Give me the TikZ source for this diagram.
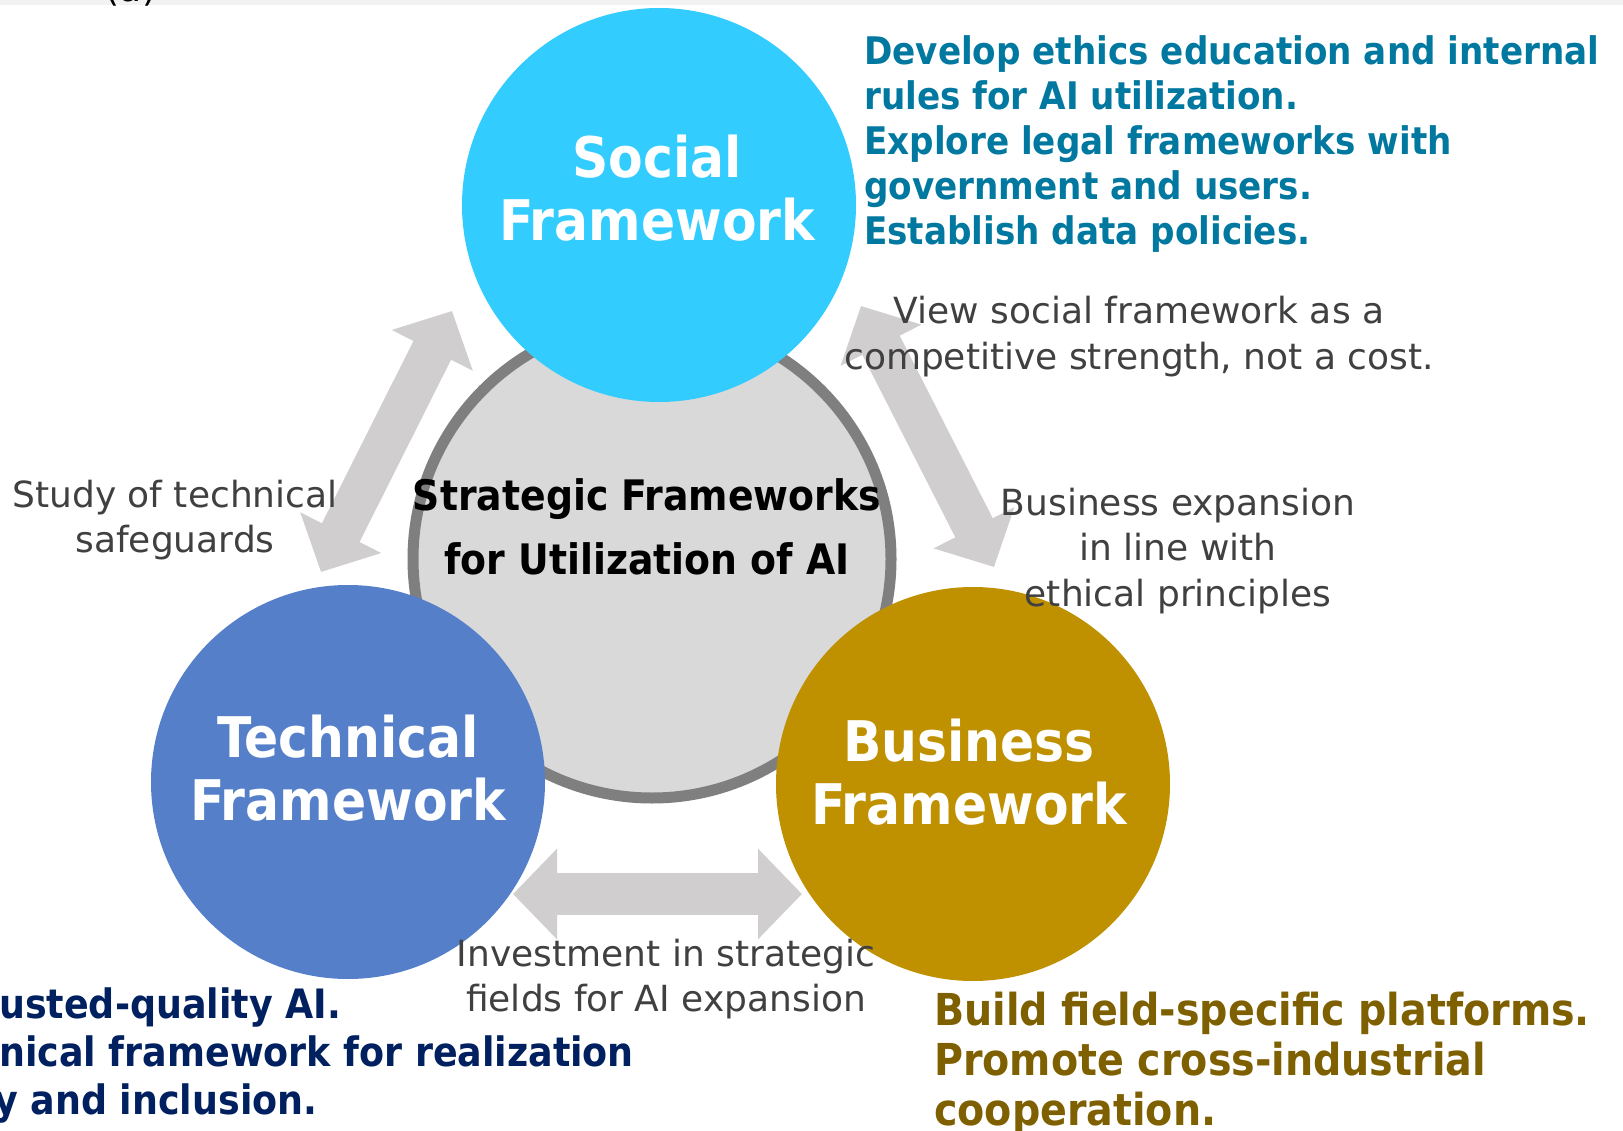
\documentclass[tikz,border=0pt]{standalone}
\usepackage{fontspec}
\setmainfont{DejaVu Sans}
\newfontfamily\bfc{DejaVu Sans Condensed Bold}
\usetikzlibrary{arrows.meta}
\definecolor{socialc}{HTML}{33CCFF}
\definecolor{techc}{HTML}{5580C9}
\definecolor{busc}{HTML}{BF9000}
\definecolor{centerfill}{HTML}{D9D9D9}
\definecolor{centerdraw}{HTML}{7F7F7F}
\definecolor{arrowc}{HTML}{D0CECE}
\definecolor{tealc}{HTML}{0078A0}
\definecolor{navyc}{HTML}{002060}
\definecolor{brownc}{HTML}{7F6000}
\definecolor{labelc}{HTML}{404040}
\definecolor{bandc}{HTML}{F2F2F2}
\tikzset{
  fw/.style={circle, minimum size=394pt, inner sep=0pt, fill=#1},
  fwtext/.style={text=white, align=center, anchor=base, inner sep=0pt,
    font=\bfc\fontsize{56}{63}\selectfont},
  lbl/.style={text=labelc, align=center, anchor=base, inner sep=0pt,
    font=\fontsize{36}{45.5}\selectfont},
  note/.style={align=left, anchor=base west, inner sep=0pt},
  navynote/.style={note, text=navyc, font=\bfc\fontsize{40.5}{48}\selectfont},
  dbl/.style={arrowc, line width=42pt,
    {Triangle[length=44pt,width=88pt]}-{Triangle[length=44pt,width=88pt]}},
}
\begin{document}
\begin{tikzpicture}[x=1pt,y=-1pt]
\useasboundingbox (0,0) rectangle (1623,1131);
\clip (0,0) rectangle (1623,1131);
\fill[white] (0,0) rectangle (1623,1131);
\fill[bandc] (0,0) rectangle (1623,5);
\node[anchor=base, inner sep=0pt, font=\fontsize{36}{40}\selectfont] (tag) at (131,2) {(a)};
% centre
\node[circle, minimum size=478pt, inner sep=0pt, fill=centerfill, draw=centerdraw, line width=11pt] (core) at (652,559) {};
% arrows
\coordinate (l1) at (452,311); \coordinate (l2) at (321,572);
\coordinate (r1) at (861,306); \coordinate (r2) at (994,567);
\coordinate (b1) at (513,894); \coordinate (b2) at (802,894);
\draw[dbl] (l2) -- (l1);
\draw[dbl] (r1) -- (r2);
\draw[dbl] (b1) -- (b2);
% framework circles
\node[fw=socialc] (social) at (659,205) {};
\node[fw=techc] (tech) at (348,782) {};
\node[fw=busc] (bus) at (973,784) {};
\node[fwtext] (socialt) at (657,241) {Social\\Framework};
\node[fwtext] (techt) at (348,820) {Technical\\Framework};
\node[fwtext] (bust) at (969,824) {Business\\Framework};
\node[anchor=base, align=center, inner sep=0pt, font=\bfc\fontsize{42}{64}\selectfont] (coret) at (647,574) {Strategic Frameworks\\for Utilization of AI};
% labels
\node[lbl] (lview) at (1139,369.5) {View social framework as a\\competitive strength, not a cost.};
\node[lbl] (lstudy) at (175,552.5) {Study of technical\\safeguards};
\node[lbl] (lbus) at (1178,606) {Business expansion\\in line with\\ethical principles};
\node[lbl] (linv) at (666,1011.5) {Investment in strategic\\fields for AI expansion};
% notes
\node[note, text=tealc, font=\bfc\fontsize{38}{45}\selectfont] (nsocial) at (864,245) {Develop ethics education and internal\\rules for AI utilization.\\Explore legal frameworks with\\government and users.\\Establish data policies.};
\node[navynote] (ntech1) at (-1,1018) {usted-quality AI.};
\node[navynote] (ntech2) at (-1,1066) {nical framework for realization};
\node[navynote] (ntech3) at (-6,1114) {y and inclusion.};
\node[note, text=brownc, font=\bfc\fontsize{44}{50}\selectfont] (nbus) at (934,1125) {Build field-specific platforms.\\Promote cross-industrial\\cooperation.};
\end{tikzpicture}
\end{document}
